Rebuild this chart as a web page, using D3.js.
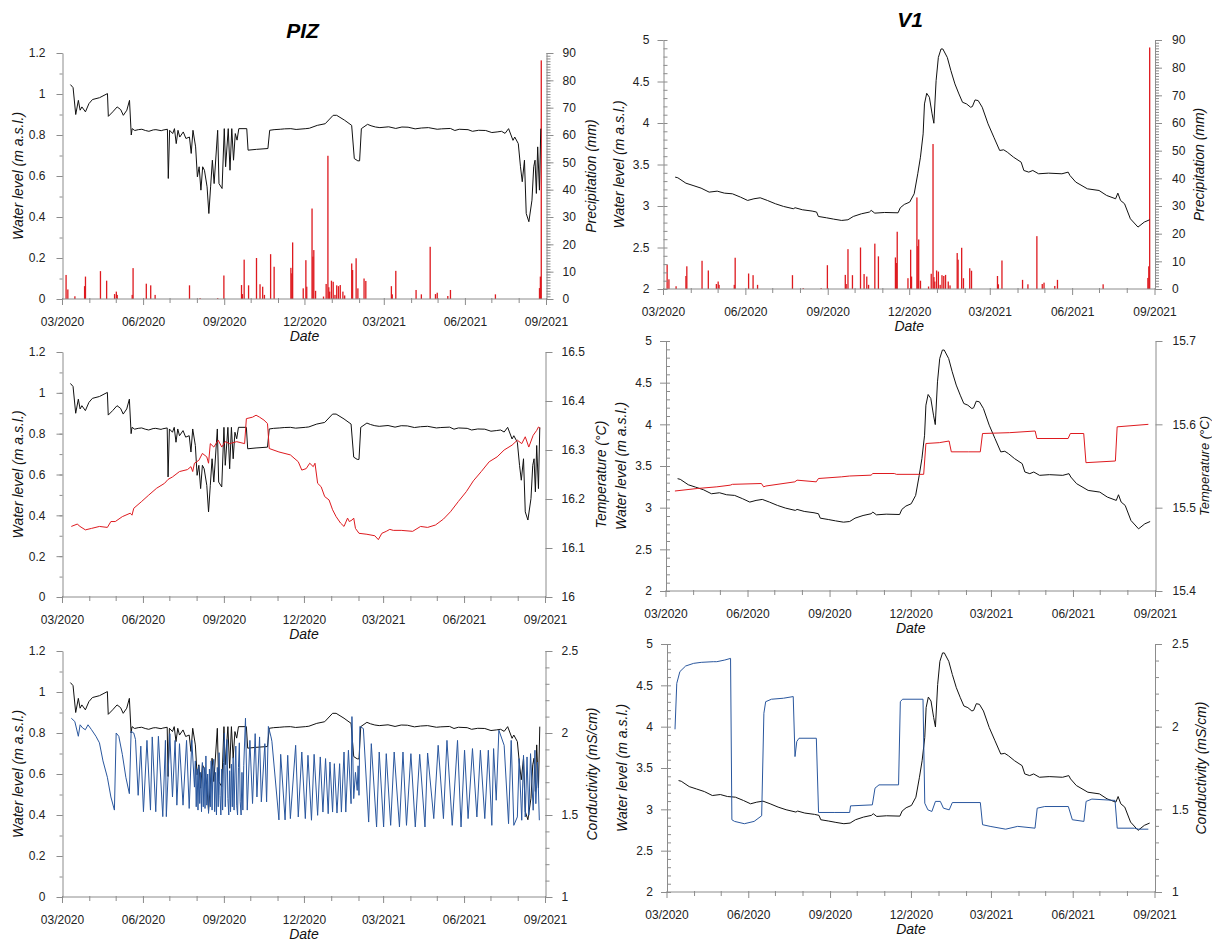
<!DOCTYPE html>
<html>
<head>
<meta charset="utf-8">
<script src="https://cdn.jsdelivr.net/npm/d3@7/dist/d3.min.js"></script>
<style>
  body { margin: 0; background: #fff; }
  svg { display: block; font-family: "Liberation Sans", Arial, sans-serif; }
</style>
</head>
<body>
<svg id="chart" width="1212" height="944"></svg>
<script>
// all series are [days after 2020-03-01, value]
const xTickLabels = ["03/2020", "06/2020", "09/2020", "12/2020", "03/2021", "06/2021", "09/2021"];

const pizLevelTicks = [0, 0.2, 0.4, 0.6, 0.8, 1, 1.2];
const v1LevelTicks = [2, 2.5, 3, 3.5, 4, 4.5, 5];
const precipTicks = [0, 10, 20, 30, 40, 50, 60, 70, 80, 90];
const pizTempTicks = [16, 16.1, 16.2, 16.3, 16.4, 16.5];
const v1TempTicks = [15.4, 15.5, 15.6, 15.7];
const condTicks = [1, 1.5, 2, 2.5];

// water level PIZ (m a.s.l.)
const pizLevel = [
  [9,1.046],[12,1.031],[15,0.90],[18,0.969],[20,0.921],[22,0.937],[26,0.913],[30,0.953],[34,0.973],
  [42,0.982],[51,1.002],[52,0.891],[57,0.913],[62,0.937],[66,0.924],[69,0.896],[73,0.921],[76,0.969],
  [78,0.80],[79,0.831],[82,0.822],[86,0.826],[90,0.828],[94,0.822],[98,0.818],[103,0.825],[106,0.826],
  [112,0.821],[114,0.824],[119,0.828],[120,0.588],[121.5,0.823],[125,0.807],[127,0.831],[129,0.758],
  [131,0.823],[133,0.79],[137,0.815],[140,0.783],[144,0.79],[146,0.71],[148,0.823],[151,0.742],
  [153,0.596],[155,0.645],[157,0.531],[159,0.645],[161,0.628],[164,0.547],[166,0.417],[168,0.547],
  [170,0.677],[172,0.563],[176,0.823],[177.5,0.563],[181,0.539],[183.5,0.831],[185,0.645],[188,0.831],
  [190,0.628],[192,0.831],[194,0.677],[196,0.807],[198,0.775],[200,0.831],[209,0.831],[210.5,0.726],
  [220,0.73],[233,0.734],[235,0.823],[240,0.826],[247,0.828],[252,0.83],[259,0.831],[265,0.827],
  [276,0.831],[280,0.833],[289,0.847],[298,0.855],[307,0.896],[311,0.896],[320,0.872],[328,0.847],
  [331,0.685],[335,0.674],[337,0.674],[339,0.831],[346,0.852],[350,0.845],[355,0.839],[360,0.836],
  [370,0.84],[378,0.832],[385,0.839],[392,0.838],[400,0.83],[407,0.834],[415,0.836],[425,0.828],
  [430,0.83],[440,0.832],[445,0.822],[450,0.828],[460,0.826],[465,0.818],[472,0.823],[480,0.822],
  [487,0.812],[493,0.815],[498,0.818],[502,0.808],[506,0.831],[511,0.774],[513,0.79],[517,0.758],
  [519.5,0.645],[521.5,0.572],[524,0.677],[526,0.417],[529,0.377],[532.5,0.482],[534.5,0.645],
  [536,0.677],[537.5,0.515],[539,0.742],[541,0.531],[542.5,0.831]
];

// water level V1 (m a.s.l.)
const v1Level = [
  [13,3.348],[16,3.34],[25,3.275],[33,3.247],[42,3.215],[51,3.167],[60,3.179],[68,3.155],[77,3.147],
  [86,3.107],[94,3.067],[101,3.087],[108,3.099],[116,3.067],[125,3.027],[134,2.995],[145,2.967],
  [147,2.979],[155,2.955],[166,2.939],[171,2.927],[173,2.874],[182,2.858],[190,2.842],[199,2.826],
  [206,2.834],[212,2.874],[221,2.906],[230,2.927],[232,2.947],[236,2.914],[247,2.922],[262,2.918],
  [264.5,2.979],[269,3.019],[275,3.047],[280,3.147],[284,3.388],[287,3.588],[290,3.869],[291.5,4.23],
  [294,4.358],[297,4.31],[300,4.11],[302,3.997],[304.5,4.51],[307,4.79],[310,4.892],[312,4.892],
  [317,4.79],[321,4.631],[325.5,4.471],[330,4.35],[334,4.25],[338.5,4.23],[343,4.19],[345,4.198],
  [348,4.278],[351.5,4.27],[356,4.19],[362.5,3.99],[369,3.829],[375.5,3.669],[380,3.677],[384,3.649],
  [391,3.588],[399.5,3.528],[402.5,3.428],[408,3.408],[412.5,3.428],[419,3.388],[430,3.396],
  [445,3.388],[452,3.408],[454,3.368],[460.5,3.288],[473.5,3.207],[486.5,3.187],[495,3.127],
  [505,3.087],[507.5,3.155],[510.5,3.067],[515,3.027],[521.5,2.846],[530,2.746],[537,2.806],[543,2.834]
];

// daily precipitation (mm), same gauge for both sites
const precip = [
  [4,8.8],[6,3.5],[14,1],[25,4.7],[26,8.2],[43,10.2],[50,6.7],[59,1.8],[61,2.7],[62,1.5],[79,1.5],
  [80,11.3],[95,5.6],[100,5],[105,1.5],[144,5],[156,0.3],[176,0.3],[183,8.6],[203,5.1],[204,1.8],
  [206,14.4],[211,5],[220,15],[224,5.4],[227,4.5],[229,1.5],[236,16.4],[240,11.8],[259,11.4],
  [260,9.4],[261,20.7],[273,3.9],[276,14.2],[277,4.5],[283,33.1],[284,15.5],[285,17.9],[287,3],
  [296,0.9],[299,5.5],[301,52.4],[302,4.3],[303,2.7],[305,6.7],[307,6.3],[309,1.5],[311,5],
  [313,4.7],[315,5.1],[318,2.7],[320,1.3],[328,13],[329,10.6],[333,14.9],[335,3.9],[342,7.5],
  [344,6.6],[373,4.7],[374,1.7],[378,10.3],[401,3.3],[407,1.7],[417,19.1],[423,1.8],[425,2.3],
  [437,1.1],[440,3.3],[491,1.7],[541,4],[542,8.2],[543,87.3]
];

// temperature PIZ (°C)
const pizTemp = [
  [10,16.144],[17,16.149],[19,16.145],[26,16.137],[33,16.14],[42,16.144],[51,16.142],[55,16.154],
  [60,16.154],[68,16.164],[77,16.171],[79,16.167],[81,16.181],[90,16.195],[98,16.208],[107,16.222],
  [116,16.232],[120,16.24],[125,16.245],[133,16.256],[142,16.26],[146,16.266],[148,16.256],
  [150,16.273],[155,16.279],[159,16.293],[164,16.286],[166,16.273],[168,16.313],[172,16.306],
  [177,16.32],[181,16.306],[185,16.317],[190,16.313],[198,16.317],[207,16.313],[209,16.364],
  [216,16.367],[220,16.371],[224,16.367],[229,16.361],[233,16.354],[235,16.303],[246,16.296],
  [259,16.29],[268,16.276],[272,16.259],[277,16.262],[281,16.273],[285,16.266],[287,16.273],
  [290,16.232],[294,16.225],[298,16.205],[303,16.198],[307,16.178],[311,16.164],[316,16.151],
  [320,16.144],[324,16.161],[326,16.154],[329,16.157],[331,16.161],[333,16.14],[337,16.13],
  [346,16.128],[355,16.125],[359,16.117],[363,16.13],[368,16.134],[372,16.138],[376,16.136],
  [385,16.136],[398,16.134],[407,16.144],[415,16.142],[424,16.147],[433,16.159],[441,16.174],
  [450,16.195],[459,16.215],[467,16.237],[476,16.256],[485,16.276],[494,16.286],[502,16.3],
  [511,16.31],[517,16.32],[522,16.313],[526,16.327],[530,16.306],[535,16.33],[539,16.34],
  [541,16.347],[543,16.344]
];

// temperature V1 (°C)
const v1Temp = [
  [10,15.52],[35,15.523],[57,15.525],[72,15.527],[74.5,15.528],[107,15.529],[109.5,15.525],
  [112,15.526],[144.5,15.531],[147,15.533],[168.5,15.531],[171,15.535],[197,15.537],[206,15.538],
  [230,15.539],[232,15.541],[256,15.541],[258.5,15.54],[289,15.54],[291.5,15.577],[306.5,15.578],
  [317.5,15.58],[320,15.567],[339.5,15.567],[352.5,15.567],[355,15.589],[385.5,15.59],[414,15.592],
  [416,15.583],[451,15.583],[453.5,15.589],[468.5,15.589],[471,15.554],[504,15.556],[506,15.597],
  [541,15.6]
];

// conductivity PIZ (mS/cm)
const pizCond = [
  [10,2.09],[14,2.07],[18,1.98],[20,2.05],[23,2.03],[26,2.02],[29,2.05],[33,2.02],[38,1.98],[42,1.94],
  [46,1.83],[51,1.73],[55,1.61],[59,1.53],[61,2.0],[64,1.98],[68,1.87],[72,1.73],[76,1.63],[78,2.01],
  [81,2.0],[83,1.96],[86,1.62],[89,1.92],[92,1.52],[96,1.955],[100,1.53],[102,1.976],[106,1.52],
  [109,1.98],[114,1.49],[117,1.955],[118,1.49],[122,1.996],[125,1.61],[128,1.955],[130,1.56],
  [133,1.935],[137,1.56],[141,1.955],[144,1.54],[147,1.955],[150,1.67],
  [151,1.83],[152,1.55],[153,1.78],[154,1.53],[155,1.80],[156,1.57],[157,1.76],[158,1.52],[159,1.82],
  [160,1.55],[161,1.79],[162,1.54],[163,1.86],[164,1.56],[165,1.75],[166,1.51],[167,1.78],[168,1.55],
  [169,1.83],[170,1.53],[171,1.80],[172,1.84],[173,1.52],[174,1.76],[175,1.50],[176,1.79],[177,1.55],
  [178,1.88],[179,1.62],[180,1.50],[181,1.78],[182,1.53],[183,1.82],[184,2.0],[185,1.55],[186,1.80],
  [187,1.96],[188,1.60],[189,1.50],[190,1.77],[191,1.52],[192,1.81],[193,1.55],[194,1.85],[195,1.53],
  [196,1.75],[197,1.92],[198,1.56],[199,1.50],[200,1.79],[201,1.94],[202,1.58],[203,1.50],[204,1.76],
  [205,1.53],[206,1.80],
  [208,2.09],[210,1.53],[213,1.955],[216,1.57],[219,1.996],[221,1.61],[224,1.976],[226,1.58],
  [230,1.935],[232,1.58],[234,2.04],[237,1.976],[238,1.95],[246,1.47],[248,1.87],[253,1.47],
  [256,1.864],[259,1.478],[265,1.925],[268,1.488],[272,1.884],[276,1.478],[279,1.864],[283,1.468],
  [286,1.87],[290,1.498],[293,1.854],[296,1.518],[299,1.844],[302,1.508],[304,1.823],[307,1.518],
  [309,1.813],[312,1.512],[315,1.813],[317,1.518],[320,1.884],[322,1.518],[325,1.895],[328,1.569],
  [329,2.10],[331,1.60],[333,1.76],[335,1.65],[336,1.80],[337,1.62],[338,2.04],[342,2.027],
  [348,1.457],[351,1.935],[357,1.427],[360,1.884],[365,1.427],[368,1.874],[373,1.437],[377,1.884],
  [383,1.427],[387,1.884],[391,1.437],[396,1.874],[401,1.427],[406,1.87],[412,1.427],[415,1.878],
  [422,1.478],[427,1.925],[433,1.478],[437,1.955],[443,1.437],[449,1.955],[453,1.427],[457,1.895],
  [461,1.478],[466,1.905],[471,1.488],[475,1.895],[480,1.478],[484,1.895],[488,1.437],[490,1.905],
  [493,1.59],[496,2.017],[502,1.925],[507,1.447],[510,1.955],[513,1.437],[517,1.488],[519,1.844],
  [522,1.468],[524,1.864],[526,1.488],[528,1.854],[530,1.498],[532,1.874],[535,1.529],[537,1.895],
  [538,1.569],[540,1.823],[542,1.468]
];

// conductivity V1 (mS/cm)
const v1Cond = [
  [9,1.984],[11,2.262],[14.5,2.333],[21,2.367],[30,2.383],[38.5,2.389],[52,2.393],[56,2.393],
  [65,2.403],[71.5,2.413],[73,1.437],[76,1.427],[87,1.413],[98,1.427],[106.5,1.461],[109,2.081],
  [111,2.151],[117.5,2.166],[131,2.172],[142,2.182],[144,1.819],[146,1.91],[148.5,1.93],[168,1.93],
  [170.5,1.481],[188,1.481],[205.5,1.481],[206.5,1.521],[231,1.527],[234,1.628],[238.5,1.648],
  [260.5,1.648],[262.5,2.151],[265,2.166],[288,2.166],[290,1.537],[293.5,1.497],[298,1.487],
  [302,1.548],[307.5,1.548],[311,1.507],[317.5,1.497],[321,1.541],[352.5,1.541],[355,1.407],
  [363.5,1.397],[381,1.38],[394.5,1.397],[414,1.386],[416.5,1.507],[425,1.517],[451.5,1.517],
  [456,1.437],[469,1.427],[471.5,1.548],[478,1.562],[504,1.554],[506.5,1.386],[526,1.386],
  [530.5,1.38],[541.5,1.38]
];

const t0 = new Date(2020, 2, 1), t1 = new Date(2021, 8, 1);
const toDate = d => d3.timeHour.offset(t0, Math.round(d * 24));
const fmt = v => String(+v.toFixed(2));
const parseTick = d3.timeParse("%m/%Y");

const axisGrey = "#8c8c8c";
const RED = "#de1a1f", BLUE = "#2a579e", BLACK = "#111";

const svg = d3.select("#chart");

const panels = [
  { x0: 62.5, x1: 546.5, y0: 53, y1: 299, lDom: [0, 1.2], lTicks: pizLevelTicks, lMinor: 0.1, lPad: 11,
    rDom: [0, 90], rTicks: precipTicks, rMinor: 1, rPad: 9, rTitle: "Precipitation (mm)", rDx: 44.5,
    bars: precip, series: [[pizLevel, "L", BLACK]] },
  { x0: 663.5, x1: 1155, y0: 40, y1: 289, lDom: [2, 5], lTicks: v1LevelTicks, lMinor: 0.1, lPad: 8, minorIn: true,
    rDom: [0, 90], rTicks: precipTicks, rMinor: 1, rPad: 10, rTitle: "Precipitation (mm)", rDx: 44,
    bars: precip, series: [[v1Level, "L", BLACK]] },
  { x0: 62.5, x1: 545.5, y0: 352, y1: 597, lDom: [0, 1.2], lTicks: pizLevelTicks, lMinor: 0.1, lPad: 11,
    rDom: [16, 16.5], rTicks: pizTempTicks, rPad: 9, rTitle: "Temperature (°C)", rDx: 55,
    series: [[pizLevel, "L", BLACK], [pizTemp, "R", RED]] },
  { x0: 666, x1: 1155.5, y0: 341, y1: 591, lDom: [2, 5], lTicks: v1LevelTicks, lMinor: 0.1, lPad: 8, minorIn: true,
    rDom: [15.4, 15.7], rTicks: v1TempTicks, rPad: 10, rTitle: "Temperature (°C)", rDx: 48.5, rSize: 13,
    series: [[v1Level, "L", BLACK], [v1Temp, "R", RED]] },
  { x0: 62.5, x1: 545.5, y0: 651, y1: 897, lDom: [0, 1.2], lTicks: pizLevelTicks, lMinor: 0.1, lPad: 11,
    rDom: [1, 2.5], rTicks: condTicks, rMinor: 0.1, rPad: 9, rTitle: "Conductivity (mS/cm)", rDx: 46.5,
    series: [[pizLevel, "L", BLACK], [pizCond, "R", BLUE]] },
  { x0: 667, x1: 1155, y0: 644, y1: 892, lDom: [2, 5], lTicks: v1LevelTicks, lMinor: 0.1, lPad: 8, minorIn: true,
    rDom: [1, 2.5], rTicks: condTicks, rMinor: 0.1, rPad: 10, rTitle: "Conductivity (mS/cm)", rDx: 46,
    series: [[v1Level, "L", BLACK], [v1Cond, "R", BLUE]] }
];

function styleAxis(sel) {
  sel.selectAll(".domain").attr("stroke", axisGrey);
  sel.selectAll(".tick line").attr("stroke", axisGrey);
  sel.selectAll(".tick text").attr("fill", "#222").attr("font-size", 12)
    .attr("font-family", "'Liberation Sans', Arial, sans-serif");
}

function minorValues(dom, step) {
  const n = Math.round((dom[1] - dom[0]) / step);
  return d3.range(n + 1).map(i => +(dom[0] + i * step).toFixed(4));
}

function drawPanel(p) {
  const g = svg.append("g");
  const x = d3.scaleTime().domain([t0, t1]).range([p.x0, p.x1]);
  const yL = d3.scaleLinear().domain(p.lDom).range([p.y1, p.y0]);
  const yR = d3.scaleLinear().domain(p.rDom).range([p.y1, p.y0]);

  // precipitation bars first, lines on top
  if (p.bars) {
    g.append("g").selectAll("rect").data(p.bars).join("rect")
      .attr("x", d => x(toDate(d[0])) - 0.6)
      .attr("width", 1.3)
      .attr("y", d => yR(d[1]))
      .attr("height", d => yR(p.rDom[0]) - yR(d[1]))
      .attr("fill", RED);
  }

  // bottom axis: monthly ticks, labels every 3 months
  const months = d3.timeMonth.range(t0, d3.timeDay.offset(t1, 1));
  const labelled = xTickLabels.map(parseTick);
  const isLab = m => labelled.some(l => +l === +m);
  g.append("line").attr("x1", p.x0).attr("x2", p.x1).attr("y1", p.y1).attr("y2", p.y1)
    .attr("stroke", axisGrey);
  g.append("g").selectAll("line").data(months).join("line")
    .attr("x1", d => x(d)).attr("x2", d => x(d))
    .attr("y1", p.y1 - 1).attr("y2", d => p.y1 + (isLab(d) ? 6 : 4))
    .attr("stroke", axisGrey);
  g.append("g").selectAll("text").data(labelled).join("text")
    .attr("x", d => x(d)).attr("y", p.y1 + 23)
    .attr("text-anchor", "middle").attr("dominant-baseline", "central")
    .attr("font-size", 12).attr("fill", "#222")
    .text((d, i) => xTickLabels[i]);
  g.append("text").attr("x", (p.x0 + p.x1) / 2).attr("y", p.y1 + 37)
    .attr("text-anchor", "middle").attr("dominant-baseline", "central")
    .attr("font-size", 14).attr("font-style", "italic").attr("fill", "#111").text("Date");

  // left axis
  g.append("g").attr("transform", `translate(${p.x0},0)`)
    .call(d3.axisLeft(yL).tickValues(p.lTicks).tickFormat(fmt).tickSizeInner(6).tickSizeOuter(0).tickPadding(p.lPad))
    .call(styleAxis);
  g.append("g").attr("transform", `translate(${p.x0},0)`)
    .call(d3.axisLeft(yL).tickValues(minorValues(p.lDom, p.lMinor)).tickFormat("").tickSize(p.minorIn ? -4 : 3))
    .call(styleAxis).select(".domain").remove();
  g.append("text")
    .attr("transform", `translate(${p.x0 - 45},${(p.y0 + p.y1) / 2}) rotate(-90)`)
    .attr("text-anchor", "middle").attr("dominant-baseline", "central")
    .attr("font-size", 14).attr("font-style", "italic").attr("fill", "#111")
    .text("Water level (m a.s.l.)");

  // right axis
  g.append("g").attr("transform", `translate(${p.x1},0)`)
    .call(d3.axisRight(yR).tickValues(p.rTicks).tickFormat(fmt).tickSizeInner(7).tickSizeOuter(0).tickPadding(p.rPad))
    .call(styleAxis);
  if (p.rMinor) {
    g.append("g").attr("transform", `translate(${p.x1},0)`)
      .call(d3.axisRight(yR).tickValues(minorValues(p.rDom, p.rMinor)).tickFormat("").tickSize(4))
      .call(styleAxis).select(".domain").remove();
  }
  g.append("text")
    .attr("transform", `translate(${p.x1 + p.rDx},${(p.y0 + p.y1) / 2}) rotate(-90)`)
    .attr("text-anchor", "middle").attr("dominant-baseline", "central")
    .attr("font-size", p.rSize || 14).attr("font-style", "italic").attr("fill", "#111")
    .text(p.rTitle);

  // lines
  p.series.forEach(([data, side, colour]) => {
    const y = side === "L" ? yL : yR;
    g.append("path").datum(data)
      .attr("fill", "none").attr("stroke", colour).attr("stroke-width", 1)
      .attr("stroke-linejoin", "round")
      .attr("d", d3.line().x(d => x(toDate(d[0]))).y(d => y(d[1])));
  });
}

panels.forEach(drawPanel);

svg.append("text").attr("x", 302.5).attr("y", 38).attr("text-anchor", "middle")
  .attr("font-size", 21).attr("font-weight", "bold").attr("font-style", "italic").text("PIZ");
svg.append("text").attr("x", 910).attr("y", 27).attr("text-anchor", "middle")
  .attr("font-size", 21).attr("font-weight", "bold").attr("font-style", "italic").text("V1");
</script>
</body>
</html>
